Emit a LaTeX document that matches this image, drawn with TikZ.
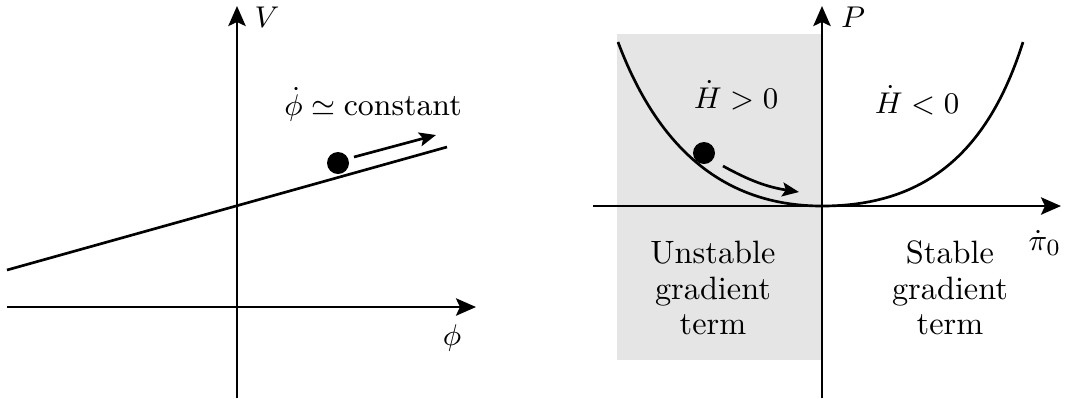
\documentclass[tikz,border=0pt]{standalone}
\usepackage{amsmath,amssymb}
\usetikzlibrary{arrows.meta}
\begin{document}
\begin{tikzpicture}[x=0.3pt,y=-0.3pt,
  axis/.style={line width=0.8pt,-{Stealth[length=6pt,width=5.2pt,inset=1.2pt]}},
  curve/.style={line width=0.8pt},
  motion/.style={line width=0.8pt,-{Stealth[length=5pt,width=4.2pt,inset=1pt]}},
  ball/.style={circle,fill=black,inner sep=0pt,minimum size=6.6pt},
  lbl/.style={font=\fontsize{9.3}{10.5}\selectfont,inner sep=1pt},
  txt/.style={font=\fontsize{9.7}{10.6}\selectfont,align=center,inner sep=0pt}]
\useasboundingbox (0,0) rectangle (1067,398);
% ---------- left panel
\coordinate (vb) at (237,398);
\coordinate (vt) at (237,6);
\coordinate (hl) at (7,307);
\coordinate (hr) at (476,307);
\draw[axis] (vb) -- (vt);
\draw[axis] (hl) -- (hr);
\node[lbl] (V) at (267,17) {$V$};
\node[lbl] (phi) at (452,338) {$\phi$};
\coordinate (la) at (7,270);
\coordinate (lb) at (447,147);
\draw[curve] (la) -- (lb);
\node[ball] (b1) at (338,163) {};
\coordinate (m1a) at (354,157);
\coordinate (m1b) at (436,135);
\draw[motion] (m1a) -- (m1b);
\node[lbl] (const) at (373,104) {$\dot\phi\simeq\text{constant}$};
% ---------- right panel
\fill[black!10] (617,34) rectangle (822,360);
\coordinate (pb) at (822,398);
\coordinate (pt) at (822,6);
\coordinate (ql) at (593,206);
\coordinate (qr) at (1061,206);
\draw[axis] (ql) -- (qr);
\draw[axis] (pb) -- (pt);
\node[lbl] (P) at (853,17) {$P$};
\node[lbl] (pi) at (1045,243) {$\dot\pi_0$};
\coordinate (cl) at (618,42);
\coordinate (c0) at (822,206);
\coordinate (cr) at (1023,42);
\draw[curve] (cl) .. controls (657,146) and (722,206) .. (c0)
             .. controls (922,206) and (987,156) .. (cr);
\node[ball] (b2) at (704,153) {};
\coordinate (m2a) at (723,166);
\coordinate (m2b) at (799,192);
\draw[motion] (m2a) to[bend right=10] (m2b);
\node[lbl] (hp) at (736,95) {$\dot H>0$};
\node[lbl] (hm) at (917,100) {$\dot H<0$};
\node[txt] (un) at (713,288) {Unstable\\gradient\\term};
\node[txt] (st) at (950,288) {Stable\\gradient\\term};
\end{tikzpicture}
\end{document}
